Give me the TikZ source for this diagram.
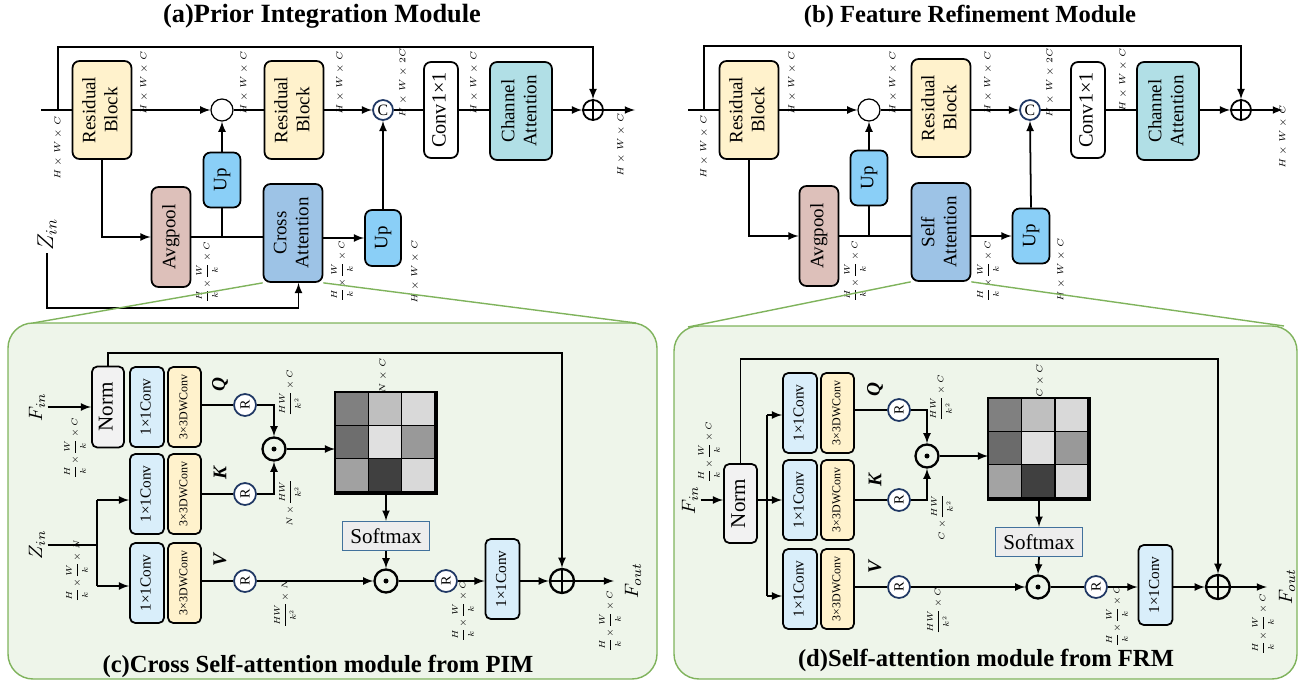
\RequirePackage{fix-cm}
\documentclass[tikz,border=0pt]{standalone}
\usepackage{amsmath}
\usepackage{amssymb}
\usepackage{fontspec}
\setmainfont{Liberation Serif}
\usepackage{tikz}
\usetikzlibrary{calc}

\definecolor{resyel}{HTML}{FFF2CC}
\definecolor{avgpink}{HTML}{DDC0BA}
\definecolor{upblue}{HTML}{8ACFF7}
\definecolor{attblue}{HTML}{9DC3E6}
\definecolor{chancyan}{HTML}{B1DFE6}
\definecolor{convblue}{HTML}{D9EEFA}
\definecolor{normgray}{HTML}{F2F2F2}
\definecolor{panelgreen}{HTML}{EEF5EA}
\definecolor{panelline}{HTML}{7FB35C}
\definecolor{rnavy}{HTML}{203864}
\definecolor{smaxline}{HTML}{41719C}
\definecolor{smaxfill}{HTML}{EDEDED}

\newcommand{\vt}[1]{\rotatebox{90}{\begin{tabular}{@{}c@{}}#1\end{tabular}}}

\begin{document}
\setlength{\nulldelimiterspace}{0pt}
\begin{tikzpicture}[x=0.02cm,y=-0.02cm,>=latex,line width=1pt,
  blk/.style={draw,rounded corners=4pt,inner sep=0pt,align=center,font=\fontsize{10.8}{12.5}\selectfont},
  pconv/.style={blk,fill=convblue,minimum width=0.68cm,minimum height=1.6cm,rounded corners=3pt,font=\fontsize{8.7}{10}\selectfont},
  pdw/.style={blk,fill=resyel,minimum width=0.66cm,minimum height=1.6cm,rounded corners=3pt,font=\fontsize{6.8}{8}\selectfont},
  rc/.style={circle,draw=rnavy,fill=white,line width=1pt,inner sep=0pt,minimum size=0.44cm,font=\fontsize{8}{8}\selectfont},
  cat/.style={rc,minimum size=0.4cm,font=\fontsize{9}{9}\selectfont},
  sumc/.style={circle,draw,inner sep=0pt,minimum size=0.4cm},
  psum/.style={circle,draw,line width=1.3pt,inner sep=0pt,minimum size=0.48cm},
  pdot/.style={circle,draw,line width=1.3pt,inner sep=0pt,minimum size=0.46cm},
  smax/.style={draw=smaxline,fill=smaxfill,line width=0.8pt,inner sep=0pt,minimum width=1.74cm,minimum height=0.58cm,font=\fontsize{12}{12}\selectfont},
  dim/.style={rotate=90,inner sep=0pt,font=\fontsize{5}{6}\selectfont},
  dimf/.style={dim,font=\fontsize{4.7}{5}\selectfont},
  ttl/.style={anchor=base,inner sep=0pt,font=\fontsize{14}{16}\selectfont\bfseries},
  qkv/.style={inner sep=0pt,font=\fontsize{11}{11}\selectfont\bfseries\itshape},
  sym/.style={inner sep=1pt,font=\fontsize{11}{11}\selectfont},
  zoomline/.style={draw=panelline,line width=0.8pt}]

\useasboundingbox (0,0) rectangle (1299,686);

% Panels
\draw[panelline,fill=panelgreen,line width=0.8pt,rounded corners=0.5cm] (8,323) rectangle (657,679);
\draw[panelline,fill=panelgreen,line width=0.8pt,rounded corners=0.5cm] (674,326) rectangle (1297,679);

% Titles
\node[ttl,font=\fontsize{15}{17}\selectfont\bfseries] (ta) at (322,23) {(a)Prior Integration Module};
\node[ttl] (tb) at (970,23) {(b) Feature Refinement Module};
\node[ttl] (tc) at (318,672) {(c)Cross Self-attention module from PIM};
\node[ttl] (td) at (986,666) {(d)Self-attention module from FRM};

% (a) Prior Integration Module
\coordinate (ina) at (41,110);
\coordinate (ska) at (58,110);
\coordinate (skt) at (58,47);
\node[blk,fill=resyel,minimum width=1.18cm,minimum height=1.96cm] (rb1) at (102,110) {\vt{Residual\\Block}};
\node[circle,draw,line width=0.7pt,inner sep=0pt,minimum size=0.44cm] (m1) at (222,110) {};
\node[blk,fill=resyel,minimum width=1.18cm,minimum height=1.96cm] (rb2) at (294,110) {\vt{Residual\\Block}};
\node[cat] (cc) at (383,110) {C};
\node[blk,fill=white,minimum width=0.68cm,minimum height=1.92cm,font=\fontsize{11.5}{13}\selectfont] (conv) at (441,110) {\vt{Conv1×1}};
\node[blk,fill=chancyan,minimum width=1.24cm,minimum height=1.96cm] (chan) at (521,111) {\vt{Channel\\Attention}};
\node[sumc] (pa) at (593,110) {};
\draw (pa.north) -- (pa.south) (pa.west) -- (pa.east);
\coordinate (outa) at (635,110);
\node[blk,fill=upblue,minimum width=0.74cm,minimum height=1.1cm] (up1) at (222,180) {\vt{Up}};
\node[blk,fill=avgpink,minimum width=0.78cm,minimum height=2cm] (avg) at (171,237) {\vt{Avgpool}};
\node[blk,fill=attblue,minimum width=1.18cm,minimum height=1.96cm] (ca) at (293,233) {\vt{Cross\\Attention}};
\node[blk,fill=upblue,minimum width=0.72cm,minimum height=1.12cm] (up2) at (383,238) {\vt{Up}};
\node[inner sep=1pt,font=\fontsize{13}{13}\selectfont] (za) at (47,235) {\rotatebox{90}{$Z_{in}$}};
\coordinate (zb) at (47,308);

\draw (ina) -- (rb1.west);
\draw[->] (rb1.east) -- (m1.west);
\draw (m1.east) -- (rb2.west);
\draw[->] (rb2.east) -- (cc.west);
\draw (cc.east) -- (conv.west);
\draw (conv.east) -- (conv.east -| chan.west);
\draw[->] (chan.east |- pa) -- (pa.west);
\draw[->] (pa.east) -- (outa);
\draw[->] (ska) -- (skt) -| (pa.north);
\draw[->] (rb1.south) |- (avg.west);
\draw (avg.east) -- (avg.east -| ca.west);
\draw (up1.south) -- (up1.south |- avg.east);
\draw[->] (up1.north) -- (m1.south);
\draw[->] (up2.west -| ca.east) -- (up2.west);
\draw[->] (up2.north) -- (cc.south);
\draw[->] (za.south) -- (zb) -| ([xshift=0.11cm]ca.south);

\node[dim] (da1) at (58,148) {$H\times W\times C$};
\node[dim] (da2) at (144,83) {$H\times W\times C$};
\node[dim] (da3) at (244,83) {$H\times W\times C$};
\node[dim] (da4) at (340,83) {$H\times W\times C$};
\node[dim] (da5) at (403,83) {$H\times W\times 2C$};
\node[dim] (da6) at (474,83) {$H\times W\times C$};
\node[dim] (da7) at (621,145) {$H\times W\times C$};
\node[dimf] (da8) at (207,271) {$\dfrac{H}{k}\times\dfrac{W}{k}\times C$};
\node[dimf] (da9) at (342,270) {$\dfrac{H}{k}\times\dfrac{W}{k}\times C$};
\node[dim] (da10) at (415,272) {$H\times W\times C$};

% (b) Feature Refinement Module
\begin{scope}[shift={(647,0)},name prefix=b-]
\coordinate (ina) at (41,110);
\coordinate (ska) at (57,110);
\coordinate (skt) at (57,46);
\node[blk,fill=resyel,minimum width=1.18cm,minimum height=1.96cm] (rb1) at (102,110) {\vt{Residual\\Block}};
\node[circle,draw,line width=0.7pt,inner sep=0pt,minimum size=0.44cm] (m1) at (222,110) {};
\node[blk,fill=resyel,minimum width=1.18cm,minimum height=1.96cm] (rb2) at (294,108) {\vt{Residual\\Block}};
\node[cat] (cc) at (383,110) {C};
\node[blk,fill=white,minimum width=0.68cm,minimum height=1.92cm,font=\fontsize{11.5}{13}\selectfont] (conv) at (441,110) {\vt{Conv1×1}};
\node[blk,fill=chancyan,minimum width=1.24cm,minimum height=1.96cm] (chan) at (521,111) {\vt{Channel\\Attention}};
\node[sumc] (pa) at (594,110) {};
\draw (pa.north) -- (pa.south) (pa.west) -- (pa.east);
\coordinate (outa) at (636,110);
\node[blk,fill=upblue,minimum width=0.74cm,minimum height=1.1cm] (up1) at (222,178) {\vt{Up}};
\node[blk,fill=avgpink,minimum width=0.78cm,minimum height=2cm] (avg) at (172,236) {\vt{Avgpool}};
\node[blk,fill=attblue,minimum width=1.18cm,minimum height=1.96cm] (ca) at (294,232) {\vt{Self\\Attention}};
\node[blk,fill=upblue,minimum width=0.74cm,minimum height=1.1cm] (up2) at (384,236) {\vt{Up}};

\draw (ina) -- (rb1.west);
\draw[->] (rb1.east) -- (m1.west);
\draw (m1.east) -- (m1.east -| rb2.west);
\draw[->] (rb2.east |- cc) -- (cc.west);
\draw (cc.east) -- (conv.west);
\draw (conv.east) -- (conv.east -| chan.west);
\draw[->] (chan.east |- pa) -- (pa.west);
\draw[->] (pa.east) -- (outa);
\draw[->] (ska) -- (skt) -| (pa.north);
\draw[->] (rb1.south) |- (avg.west);
\draw (avg.east) -- (avg.east -| ca.west);
\draw (up1.south) -- (up1.south |- avg.east);
\draw[->] (up1.north) -- (m1.south);
\draw[->] (up2.west -| ca.east) -- (up2.west);
\draw[->] (up2.north) -- (cc.south);

\node[dim] (db1) at (57,147) {$H\times W\times C$};
\node[dim] (db2) at (145,83) {$H\times W\times C$};
\node[dim] (db3) at (246,83) {$H\times W\times C$};
\node[dim] (db4) at (341,83) {$H\times W\times C$};
\node[dim] (db5) at (403,83) {$H\times W\times 2C$};
\node[dim] (db6) at (476,80) {$H\times W\times C$};
\node[dim] (db7) at (636,137) {$H\times W\times C$};
\node[dimf] (db8) at (208,270) {$\dfrac{H}{k}\times\dfrac{W}{k}\times C$};
\node[dimf] (db9) at (341,270) {$\dfrac{H}{k}\times\dfrac{W}{k}\times C$};
\node[dim] (db10) at (414,270) {$H\times W\times C$};
\end{scope}

% zoom lines
\coordinate (gc1) at (33,323);
\coordinate (gc2) at (636,323);
\coordinate (gd1) at (688,327);
\coordinate (gd2) at (1284,326);
\draw[zoomline] (ca.south west) -- (gc1) (ca.south east) -- (gc2);
\draw[zoomline] (b-ca.south west) -- (gd1) (b-ca.south east) -- (gd2);

% (c) Cross self-attention
\node[blk,fill=normgray,minimum width=0.64cm,minimum height=1.62cm,rounded corners=3pt,font=\fontsize{12}{13}\selectfont] (norm) at (108,407) {\vt{Norm}};
\node[pconv] (q1) at (147,407) {\vt{1×1Conv}};
\node[pdw] (q3) at (184.5,407) {\vt{3×3DWConv}};
\node[pconv] (k1) at (147,494) {\vt{1×1Conv}};
\node[pdw] (k3) at (184.5,494) {\vt{3×3DWConv}};
\node[pconv] (v1) at (147,583) {\vt{1×1Conv}};
\node[pdw] (v3) at (184.5,583) {\vt{3×3DWConv}};
\node[qkv] (lq) at (220,385) {\rotatebox{90}{Q}};
\node[qkv] (lk) at (220,473) {\rotatebox{90}{K}};
\node[qkv] (lv) at (220,560) {\rotatebox{90}{V}};
\node[rc] (rq) at (245,405) {\rotatebox{90}{R}};
\node[rc] (rk) at (245,494) {\rotatebox{90}{R}};
\node[rc] (rv) at (245,581) {\rotatebox{90}{R}};
\node[pdot] (dt1) at (274,449) {};
\fill (dt1) circle (2.5);
\node[inner sep=0pt,minimum width=2cm,minimum height=2cm] (mt) at (386,443) {};
\foreach \g [count=\i from 0] in {50,25,15,57,12,40,37,75,15}{
  \pgfmathtruncatemacro{\cx}{mod(\i,3)}
  \pgfmathtruncatemacro{\cy}{div(\i,3)}
  \filldraw[fill=black!\g,line width=0.8pt] (mt.north west) ++(\cx*33.33,\cy*33.33) rectangle ++(33.33,33.33);
}
\draw (mt.north west) rectangle (mt.south east);
\node[smax] (smx) at (386,536) {Softmax};
\node[pdot] (dt2) at (386,581) {};
\fill (dt2) circle (2.5);
\node[rc] (ro) at (446,581) {\rotatebox{90}{R}};
\node[pconv] (oc) at (502.5,579) {\vt{1×1Conv}};
\node[psum] (pc) at (562,581) {};
\draw[line width=1.3pt] (pc.north) -- (pc.south) (pc.west) -- (pc.east);
\coordinate (oco) at (614,581);
\node[sym] (fout) at (633,581) {\rotatebox{90}{$F_{out}$}};
\node[sym] (fin) at (37,407) {\rotatebox{90}{$F_{in}$}};
\node[sym] (zc) at (37,545) {\rotatebox{90}{$Z_{in}$}};
\coordinate (zk) at (97,500);
\coordinate (zv) at (97,586);
\coordinate (nt) at (108,353);

\draw[->] (fin.east) -- (fin.east -| norm.west);
\draw[->] (norm.north) -- (nt) -| (pc.north);
\draw (zc.east) -- (zc.east -| zk);
\draw (zk) -- (zv);
\draw[->] (zk) -- (zk -| k1.west);
\draw[->] (zv) -- (zv -| v1.west);
\draw (q3.east |- rq) -- (rq);
\draw (k3.east |- rk) -- (rk);
\draw (v3.east |- rv) -- (rv);
\draw[->] (rq) -| (dt1.north);
\draw[->] (rk) -| (dt1.south);
\draw[->] (dt1) -- (dt1 -| mt.west);
\draw[->] (mt.south) -- (smx.north);
\draw[->] (smx.south) -- (dt2.north);
\draw[->] (rv) -- (dt2.west);
\draw (dt2) -- (ro);
\draw[->] (ro) -- (ro -| oc.west);
\draw[->] (oc.east |- pc) -- (pc.west);
\draw[->] (pc.east) -- (oco);

\node[dimf] (dc1) at (75,447) {$\dfrac{H}{k}\times\dfrac{W}{k}\times C$};
\node[dimf] (dc2) at (77,570) {$\dfrac{H}{k}\times\dfrac{W}{k}\times N$};
\node[dimf] (dc3) at (290,392) {$\dfrac{HW}{k^2}\times C$};
\node[dimf] (dc4) at (290,504) {$N\times\dfrac{HW}{k^2}$};
\node[dimf] (dc5) at (285,603) {$\dfrac{HW}{k^2}\times N$};
\node[dim] (dc6) at (383,376) {$N\times C$};
\node[dimf] (dc7) at (463,610) {$\dfrac{H}{k}\times\dfrac{W}{k}\times C$};
\node[dimf] (dc8) at (610,620) {$\dfrac{H}{k}\times\dfrac{W}{k}\times C$};

% (d) Self-attention
\begin{scope}[shift={(653,6)},name prefix=d-]
\node[blk,fill=normgray,minimum width=0.66cm,minimum height=1.58cm,rounded corners=3pt,font=\fontsize{12}{13}\selectfont] (norm) at (87.5,497.5) {\vt{Norm}};
\node[pconv] (q1) at (147,407) {\vt{1×1Conv}};
\node[pdw] (q3) at (184.5,407) {\vt{3×3DWConv}};
\node[pconv] (k1) at (147,494) {\vt{1×1Conv}};
\node[pdw] (k3) at (184.5,494) {\vt{3×3DWConv}};
\node[pconv] (v1) at (147,583) {\vt{1×1Conv}};
\node[pdw] (v3) at (184.5,583) {\vt{3×3DWConv}};
\node[qkv] (lq) at (222,384) {\rotatebox{90}{Q}};
\node[qkv] (lk) at (222,474) {\rotatebox{90}{K}};
\node[qkv] (lv) at (222,561) {\rotatebox{90}{V}};
\node[rc] (rq) at (246,404) {\rotatebox{90}{R}};
\node[rc] (rk) at (246,494) {\rotatebox{90}{R}};
\node[rc] (rv) at (246,581) {\rotatebox{90}{R}};
\node[pdot] (dt1) at (274,450) {};
\fill (dt1) circle (2.5);
\node[inner sep=0pt,minimum width=2cm,minimum height=2cm] (mt) at (386,443) {};
\foreach \g [count=\i from 0] in {50,25,15,58,12,40,36,75,14}{
  \pgfmathtruncatemacro{\cx}{mod(\i,3)}
  \pgfmathtruncatemacro{\cy}{div(\i,3)}
  \filldraw[fill=black!\g,line width=0.8pt] (mt.north west) ++(\cx*33.33,\cy*33.33) rectangle ++(33.33,33.33);
}
\draw (mt.north west) rectangle (mt.south east);
\node[smax] (smx) at (386,536) {Softmax};
\node[pdot] (dt2) at (385,581) {};
\fill (dt2) circle (2.5);
\node[rc] (ro) at (443,581) {\rotatebox{90}{R}};
\node[pconv] (oc) at (502.5,579) {\vt{1×1Conv}};
\node[psum] (pc) at (565,581) {};
\draw[line width=1.3pt] (pc.north) -- (pc.south) (pc.west) -- (pc.east);
\coordinate (oco) at (614,581);
\node[sym] (fout) at (634,581) {\rotatebox{90}{$F_{out}$}};
\node[sym] (fin) at (37,494) {\rotatebox{90}{$F_{in}$}};
\coordinate (sp) at (114,494);
\coordinate (qs) at (114,409);
\coordinate (vs) at (114,590);
\coordinate (nt) at (87.5,353);

\draw[->] (fin.east) -- (fin.east -| norm.west);
\draw (norm.east |- sp) -- (sp);
\draw[->] (sp) -- (sp -| k1.west);
\draw (qs) -- (vs);
\draw[->] (qs) -- (qs -| q1.west);
\draw[->] (vs) -- (vs -| v1.west);
\draw[->] (norm.north) -- (nt) -| (pc.north);
\draw (q3.east |- rq) -- (rq);
\draw (k3.east |- rk) -- (rk);
\draw (v3.east |- rv) -- (rv);
\draw[->] (rq) -| (dt1.north);
\draw[->] (rk) -| (dt1.south);
\draw[->] (dt1) -- (dt1 -| mt.west);
\draw[->] (mt.south) -- (smx.north);
\draw[->] (smx.south) -- (dt2.north);
\draw[->] (rv) -- (dt2.west);
\draw (dt2) -- (ro);
\draw[->] (ro) -- (ro -| oc.west);
\draw[->] (oc.east |- pc) -- (pc.west);
\draw[->] (pc.east) -- (oco);

\node[dimf] (dd1) at (56,445) {$\dfrac{H}{k}\times\dfrac{W}{k}\times C$};
\node[dimf] (dd3) at (288,391) {$\dfrac{HW}{k^2}\times C$};
\node[dimf] (dd4) at (289,512) {$C\times\dfrac{HW}{k^2}$};
\node[dimf] (dd5) at (285,604) {$\dfrac{HW}{k^2}\times C$};
\node[dim] (dd6) at (387,375) {$C\times C$};
\node[dimf] (dd7) at (464,609) {$\dfrac{H}{k}\times\dfrac{W}{k}\times C$};
\node[dimf] (dd8) at (610,617) {$\dfrac{H}{k}\times\dfrac{W}{k}\times C$};
\end{scope}

\end{tikzpicture}
\end{document}
